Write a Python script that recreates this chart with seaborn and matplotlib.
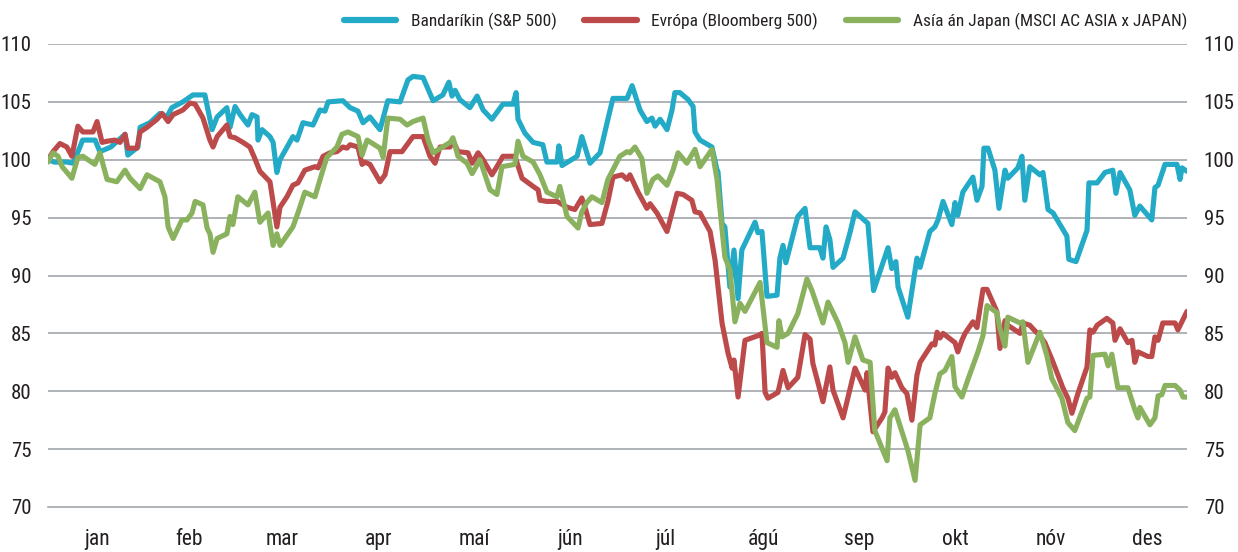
import matplotlib
matplotlib.use("Agg")
import matplotlib.pyplot as plt
import matplotlib.font_manager as fm
import seaborn as sns
import pandas as pd
import numpy as np

# ---------------- data (day of year 2011, index value) ----------------
us_days = [0, 2, 6, 8, 10, 11, 15, 16.5, 20, 24.5, 25.4, 28.6, 29.3, 32.4, 35.6, 37.8, 39.4, 42.9,
           46.1, 49.9, 52.2, 53.8, 56.9, 57.9, 59.5, 61.1, 63.6, 64.9, 66.5, 66.8, 68.1, 70.6, 71.6,
           72.8, 73.8, 77.9, 79.2, 81.1, 84.3, 86.5, 88.1, 89.1, 93.8, 96.1, 98.6, 100.2, 102.4,
           105.6, 108.1, 112, 114.5, 116.1, 119.3, 122.5, 125.6, 127.5, 128.5, 129.5, 131, 134.2,
           136.5, 138.4, 141.2, 144.7, 147.9, 148.9, 149.5, 151.7, 154.3, 157.4, 158.7, 161.9,
           162.5, 163.5, 168.3, 169.8, 172.4, 175.6, 178.1, 179.7, 184.2, 185.8, 188.3, 190.5,
           192.1, 193.1, 194.7, 196.9, 198.5, 199.4, 201, 203.6, 205.2, 205.8, 207.4, 211.2, 212.8,
           213.1, 214.4, 215.3, 216.9, 218.2, 219.5, 220.7, 224.9, 225.8, 227.1, 228.7, 231.9,
           232.8, 233.8, 234.7, 238.5, 240.8, 242.4, 245.5, 246.5, 247.5, 248.7, 249.7, 252.9,
           255.1, 256.7, 260.8, 262.6, 267.2, 268.4, 269.7, 270.4, 273.5, 276.4, 277.4, 280.5,
           282.1, 283.1, 284.7, 287.5, 288.5, 289.4, 291, 294.2, 295.5, 297.1, 297.7, 299, 301.2,
           302.5, 304.4, 305.3, 308.5, 309.8, 310.7, 312.3, 315.5, 316.5, 318.1, 319.7, 324.1,
           324.7, 327, 330.5, 331.1, 333.7, 336.2, 338.7, 339.7, 341, 344.1, 345.7, 347.3, 351.1,
           352.1, 353.1, 355.3, 359.1, 360.1, 360.7, 362.3]
us_vals = [100, 99.8, 99.8, 99.7, 101, 101.7, 101.7, 100.7, 101.1, 102.2, 100.4, 101.1, 102.8, 103.2,
           104, 103.7, 104.5, 105, 105.6, 105.6, 102.6, 103.7, 104.5, 102.8, 104.6, 103.9, 103,
           103.9, 103.7, 101.7, 102.6, 102, 101.5, 98.9, 100, 102, 101.7, 103.2, 103, 104.3, 104.2,
           105, 105.1, 104.5, 104.2, 103.2, 103.7, 102.6, 105.1, 105, 106.9, 107.2, 107.1, 105.1,
           105.6, 106.7, 105.5, 106, 105.2, 104.5, 105.5, 104.3, 103.5, 104.8, 104.8, 105.8, 103.5,
           102.3, 101.5, 101.3, 99.8, 99.8, 101.2, 99.5, 100.3, 102, 99.7, 100.6, 103.5, 105.3,
           105.3, 106.4, 104.3, 103.3, 103.6, 102.9, 103.5, 102.6, 104.3, 105.8, 105.8, 105.2,
           104.6, 102.4, 101.7, 101.1, 99.1, 99, 94.5, 94.2, 89, 92.2, 88, 92.2, 94.6, 93.7, 93.8,
           88.2, 88.3, 91.5, 92.6, 91.1, 95.1, 95.8, 92.4, 92.4, 91.5, 94.2, 93.1, 90.7, 91.5,
           93.7, 95.5, 94.5, 88.7, 92.4, 90.6, 91.2, 89, 86.4, 91.5, 90.7, 93.8, 94.2, 94.8, 96.4,
           94.4, 96.3, 95.2, 97.2, 98.5, 96.5, 97.7, 101, 101, 99.1, 95.8, 99.1, 98.4, 99.3, 100.3,
           96.5, 99.4, 98.7, 98.9, 95.7, 95.4, 93.4, 91.4, 91.2, 93.9, 98, 98, 98.9, 99.1, 97.1,
           98.9, 97.4, 95.2, 96, 94.8, 97.6, 97.8, 99.6, 99.6, 98.3, 99.3, 99]

eu_days = [0, 1.6, 3.8, 6, 7.6, 9.5, 11.1, 14.3, 15.6, 17.2, 18.8, 21.3, 22.9, 24.5, 25.4, 28.3,
           29.3, 31.5, 34.7, 36.3, 38.2, 39.8, 42.9, 45.2, 46.8, 49.3, 51.5, 52.5, 53.8, 56.9,
           57.9, 59.5, 62, 64.2, 65.8, 67.4, 70.6, 72.8, 73.8, 76, 77.9, 79.5, 81.7, 84.9, 85.9,
           87.5, 89.7, 91.9, 93.8, 95.1, 96.1, 98.6, 99.9, 100.8, 102.4, 105.6, 107.2, 108.8,
           112.6, 116.1, 119.3, 121.5, 123.1, 124.7, 127.9, 128.8, 130.4, 133.6, 134.9, 136.8,
           138.4, 141.2, 142.8, 144.7, 148.5, 150.8, 154.3, 155.9, 156.5, 158.7, 161.9, 165.1,
           167.6, 169.8, 170.8, 172.4, 176.2, 178.1, 179.7, 182.6, 184.2, 185.1, 187.7, 190.5,
           191.5, 193.7, 196.9, 200.1, 202, 204.8, 205.8, 207.4, 210.6, 212.2, 214.4, 216.3,
           217.6, 218.2, 219.5, 221.7, 225.8, 227.1, 228.1, 229, 232.2, 233.8, 235.4, 238.5,
           240.8, 242.4, 243.3, 246.5, 248.7, 249.7, 252.9, 256.7, 259.9, 260.5, 262.4, 265.3,
           266.2, 267.2, 268.4, 269.4, 271.6, 273.2, 274.8, 276.4, 277.4, 281.2, 282.1, 282.8,
           283.7, 284.7, 288.5, 289.4, 290.7, 291.7, 294.2, 295.5, 297.4, 298.7, 301.8, 302.8,
           304.4, 305.3, 309.2, 310.1, 312.3, 313.3, 315.5, 317.1, 319.7, 322.8, 324.4, 325.7,
           327.6, 330.5, 331.4, 332.4, 333.7, 336.8, 338.7, 339.4, 341, 343.5, 344.8, 345.7,
           346.7, 349.9, 351.1, 352.1, 353.1, 354.6, 358.5, 359.4, 362.3]
eu_vals = [100, 100.7, 101.4, 101.1, 100.3, 102.9, 102.4, 102.4, 103.3, 101.5, 101.6, 101.7, 101.5,
           102.2, 101, 101, 102.4, 102.8, 103.5, 104, 103.3, 103.9, 104.3, 104.9, 104.8, 103.6,
           101.7, 101.1, 102, 103, 102, 101.9, 101.5, 101.1, 100.1, 99, 98.1, 94.2, 95.9, 96.8,
           97.8, 98, 99.1, 99.4, 99.3, 100.3, 100.6, 100.7, 101.1, 101, 101.3, 101.1, 99.6, 99.8,
           99.6, 98.1, 98.7, 100.7, 100.7, 102, 102, 100.3, 99.7, 101.1, 101.1, 101.7, 100.7,
           100.6, 99.7, 100.6, 100, 98.7, 99.4, 100.3, 100.3, 98.4, 97.7, 97.4, 96.5, 96.4, 96.4,
           95.9, 95.7, 96.7, 95.9, 94.4, 94.5, 96.4, 98.5, 98.7, 98.3, 98.7, 97.2, 95.8, 96.2,
           95.4, 93.8, 97.1, 97, 96.5, 95.5, 95.4, 93.8, 91.3, 85.9, 83.3, 82, 82.7, 79.5, 84.4,
           84.8, 85, 79.9, 79.4, 79.9, 81.8, 80.3, 81.2, 84.9, 84.5, 82.4, 79.1, 82.1, 80.1, 77.7,
           82, 80.1, 81.6, 76.5, 77.7, 78.2, 82, 81.2, 81.6, 80.3, 79.8, 77.5, 81.4, 82.5, 84.1,
           84, 85.1, 84.6, 85, 84.2, 83.4, 84.4, 85, 86, 85.5, 88.8, 88.8, 86.9, 83.7, 86.1, 85.7,
           85, 85.9, 85.7, 85.4, 84.8, 84.2, 82.5, 80.3, 79.4, 78.1, 79.8, 82.1, 85.3, 85.1, 85.7,
           86.3, 85.9, 84.4, 85.4, 84.2, 84.4, 82.5, 83.4, 83, 83, 84.7, 84.4, 85.9, 85.9, 85.3,
           86.9]

asia_days = [0, 1.6, 3.2, 4.5, 7.6, 9.5, 11.1, 14.9, 16.5, 18.8, 21.9, 24.5, 26.1, 29.3, 31.5,
             35.6, 37.2, 38.2, 39.8, 42.6, 44.2, 45.8, 46.8, 49.3, 50.6, 51.5, 52.5, 53.8, 56.9,
             57.9, 58.8, 60.4, 63.6, 65.8, 67.4, 70, 71.6, 72.8, 73.8, 77.9, 79.5, 81.7, 84.9,
             87.2, 88.7, 91.9, 93.5, 95.4, 98.6, 99.9, 101.5, 105.6, 106.6, 108.1, 112, 114.2,
             116.1, 119.3, 120.9, 122.5, 127.9, 128.8, 130.4, 133.3, 134.9, 137.4, 140.6, 142.8,
             144.4, 148.5, 149.5, 151.1, 154.3, 156.5, 158.7, 161.9, 162.8, 165.1, 168.6, 169.8,
             171.4, 173, 176.2, 178.1, 181.9, 184.2, 185.1, 186.7, 188.9, 190.5, 192.4, 194,
             196.9, 198.8, 200.4, 203.2, 205.8, 207.4, 211.2, 212.8, 215.3, 216.9, 218.5, 220.1,
             221.7, 226.5, 228.7, 231.9, 232.5, 233.5, 235.4, 238.5, 241.4, 243, 246.5, 248.1,
             251.3, 253.5, 254.5, 256.7, 259.2, 261.5, 263, 266.9, 267.8, 269.4, 273.5, 275.8,
             277.4, 280.5, 282.1, 283.7, 285.3, 287.5, 288.5, 290.7, 292.6, 295.8, 297.4, 298.7,
             301.8, 302.8, 304.4, 305.3, 309.2, 310.1, 311.7, 315.5, 317.7, 319.3, 322.5, 324.4,
             326.6, 330.5, 331.4, 332.4, 336.2, 337.2, 338.4, 340.3, 343.5, 345.7, 346.7, 347.3,
             350.5, 352.1, 353.1, 354.3, 355.3, 358.5, 360.1, 361, 362.3]
asia_vals = [99.8, 100.6, 100.3, 99.4, 98.4, 100.2, 100.3, 99.6, 100.6, 98.3, 98.1, 99.1, 98.4,
             97.5, 98.7, 98.1, 96.8, 94.2, 93.2, 94.8, 94.8, 95.4, 96.4, 96.1, 94.1, 93.6, 92,
             93.2, 93.6, 95.1, 94.4, 96.8, 96.1, 97.2, 94.6, 95.4, 92.6, 93.6, 92.6, 94.2, 95.4,
             97.2, 96.8, 98.9, 100.2, 101.1, 102.2, 102.4, 102, 100.4, 101.7, 101, 100.2, 103.6,
             103.5, 103, 103.3, 103.6, 101.7, 100.6, 101.5, 101.9, 100.3, 99.7, 98.8, 100, 97.4,
             97, 99.4, 99.6, 101.6, 100.3, 99.8, 98.7, 97.2, 96.8, 97.7, 95.1, 94.1, 95.5, 96.3,
             96.8, 96.3, 98.3, 100.3, 100.7, 100.6, 101.1, 100.1, 97.1, 98.3, 98.6, 97.8, 99.1,
             100.6, 99.7, 100.9, 99.4, 100.9, 98.3, 91.6, 90.5, 86, 87.6, 86.9, 89.4, 84.2, 83.8,
             86.1, 84.7, 85, 86.7, 89.7, 88.7, 85.9, 87.7, 85.9, 84.2, 82.5, 84.7, 82.7, 82.5,
             76.6, 74, 77.7, 78.4, 74.9, 72.3, 77.1, 77.7, 79.8, 81.5, 81.8, 83, 80.4, 79.5, 81,
             83.4, 84.8, 87.4, 86.8, 85.4, 83.9, 86.4, 85.9, 86, 82.5, 85.1, 83.1, 81.1, 79.4,
             77.3, 76.6, 79.4, 79.5, 83.1, 83.2, 82.2, 83.2, 80.3, 80.3, 78.4, 77.7, 78.6, 77.1,
             77.7, 79.6, 79.7, 80.5, 80.5, 80.1, 79.5, 79.5]

series_names = ["Bandaríkin (S&P 500)", "Evrópa (Bloomberg 500)",
                "Asía án Japan (MSCI AC ASIA x JAPAN)"]
series_colors = ["#22AAC6", "#BD4A4A", "#8AB15D"]
month_labels = ["jan", "feb", "mar", "apr", "maí", "jún", "júl", "ágú", "sep", "okt", "nóv", "des"]
month_start_days = [0, 31, 59, 90, 120, 151, 181, 212, 243, 273, 304, 334, 365]
y_ticks = [70, 75, 80, 85, 90, 95, 100, 105, 110]

# ---------------- font: look for a condensed face ----------------
def find_condensed():
    prefs = ["liberationsansnarrow-regular", "robotocondensed-regular", "dejavusanscondensed.ttf",
             "opensans-condensed", "notosans-condensed", "condensed-regular", "narrow-regular",
             "condensed", "narrow"]
    files = [f.fname for f in fm.fontManager.ttflist]
    for key in prefs:
        for fn in files:
            low = fn.lower().replace(" ", "").replace("_", "-")
            if key in low and not any(b in low for b in ["bold", "italic", "oblique", "light",
                                                          "thin", "black", "medium", "semi"]):
                return fn
    return None

cfile = find_condensed()
if cfile:
    FP = lambda size: fm.FontProperties(fname=cfile, size=size)
else:
    FP = lambda size: fm.FontProperties(family="Roboto", size=size * 0.85)

# ---------------- build long table ----------------
frames = []
for name, d, v in zip(series_names,
                      [us_days, eu_days, asia_days],
                      [us_vals, eu_vals, asia_vals]):
    frames.append(pd.DataFrame({"day": d, "value": v, "series": name}))
df = pd.concat(frames, ignore_index=True)

# ---------------- plot ----------------
sns.set_theme(style="white")
plt.rcParams["font.family"] = ["DejaVu Sans"]

fig = plt.figure(figsize=(12.38, 5.52), dpi=100)
ax = fig.add_axes([48 / 1238, 1 - 507 / 552, (1187 - 48) / 1238, (507 - 44) / 552])

grid_color = "#A2A7AC"
text_color = "#231F20"
for yv in y_ticks[1:]:
    ax.axhline(yv, color=grid_color, lw=1.2, zorder=0)

sns.lineplot(data=df, x="day", y="value", hue="series", hue_order=series_names,
             palette=dict(zip(series_names, series_colors)), estimator=None, sort=False,
             units="series", lw=3.7, ax=ax, legend=False, solid_joinstyle="round")

ax.set_xlim(0, 362.3)
ax.set_ylim(70, 110)
ax.set_xlabel("")
ax.set_ylabel("")

for side in ["top", "left", "right"]:
    ax.spines[side].set_visible(False)
ax.spines["bottom"].set_color(grid_color)
ax.spines["bottom"].set_linewidth(1.2)

ax.set_yticks(y_ticks)
ax.set_yticklabels([str(t) for t in y_ticks])
ax.tick_params(axis="y", left=False, right=False, labelleft=True, labelright=True,
               pad=6, labelcolor=text_color)
for t in ax.yaxis.get_major_ticks():
    t.label1.set_fontproperties(FP(15))
    t.label2.set_fontproperties(FP(15))
    t.set_pad(6)

ax.set_xticks(month_start_days[:-1])
ax.set_xticklabels([])
mids = [(a + b) / 2 for a, b in zip(month_start_days[:-1], month_start_days[1:])]
ax.set_xticks(mids, minor=True)
ax.set_xticklabels(month_labels, minor=True)
ax.tick_params(axis="x", which="major", direction="in", length=9, width=1.2,
               color=grid_color)
ax.tick_params(axis="x", which="minor", length=0, pad=16, labelcolor=text_color)
for lab in ax.get_xticklabels(minor=True):
    lab.set_fontproperties(FP(15.5))

handles = [plt.Line2D([0], [0], color=c, lw=4.5, solid_capstyle="round")
           for c in series_colors]
leg = ax.legend(handles, series_names, loc="lower right", bbox_to_anchor=(1.0, 1.03),
                ncol=3, frameon=False, prop=FP(12.5), handlelength=3.0, handletextpad=0.85,
                columnspacing=1.6, borderaxespad=0, borderpad=0)
for t in leg.get_texts():
    t.set_color(text_color)

fig.savefig("out.png", dpi=100)
